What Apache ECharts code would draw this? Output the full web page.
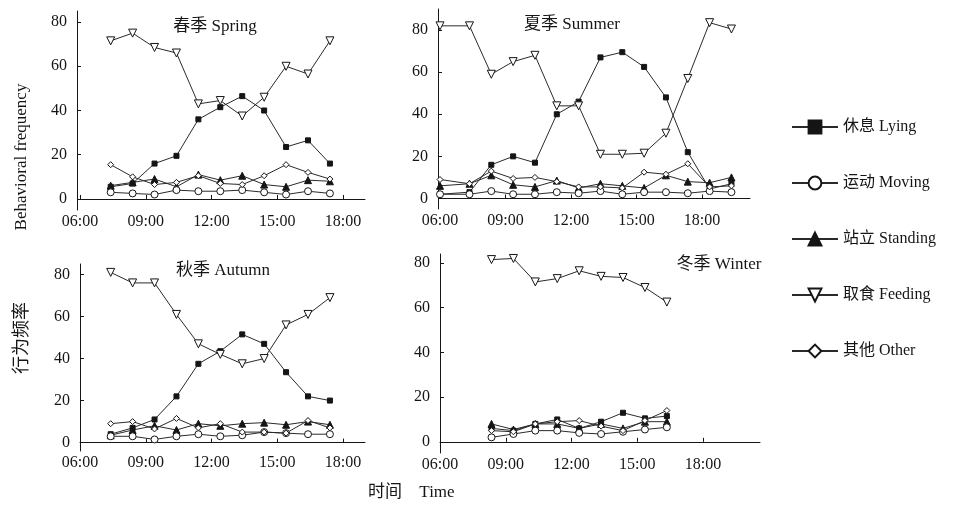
<!DOCTYPE html>
<html lang="zh">
  <head>
    <meta charset="UTF-8" />
    <title>Behavioral frequency by season</title>
    <script src="https://cdn.jsdelivr.net/npm/echarts@6.0.0/dist/echarts.min.js"></script>
  </head>
  <body style="margin:0;background:#fff">
    <div id="main" style="width: 953px; height: 506px"></div>
    <script type="text/javascript">
      // time of each observation, decimal hours
      const springHours = [7.4, 8.4, 9.4, 10.4, 11.4, 12.4, 13.4, 14.4, 15.4, 16.4, 17.4];
      const summerHours = [6.0, 7.35, 8.35, 9.35, 10.35, 11.35, 12.35, 13.35, 14.35, 15.35, 16.35, 17.35, 18.35, 19.35];
      const autumnHours = [7.4, 8.4, 9.4, 10.4, 11.4, 12.4, 13.4, 14.4, 15.4, 16.4, 17.4];
      const winterHours = [8.35, 9.35, 10.35, 11.35, 12.35, 13.35, 14.35, 15.35, 16.35];

      // spring
      const springLying = [5.5, 7, 16, 19.5, 36, 41.5, 46.5, 40, 23.5, 26.5, 16];
      const springMoving = [3, 2.5, 2, 4, 3.5, 3.5, 4, 3, 2, 3.5, 2.5];
      const springStanding = [6, 7.5, 9, 5.5, 11, 8.5, 10.5, 6.5, 5.5, 8.5, 8];
      const springFeeding = [71.5, 75, 68.5, 66, 43, 44.5, 37.5, 46, 60, 56.5, 71.5];
      const springOther = [15.5, 10, 6.5, 7.5, 10.5, 7, 6.5, 10.5, 15.5, 12, 9];

      // summer
      const summerLying = [2, 3, 16, 20, 17, 40, 46, 67, 69.5, 62.5, 48, 22, 4.5, 7];
      const summerMoving = [2, 2, 3.5, 2, 2, 3, 2.5, 3.5, 2, 3, 3, 2.5, 3.5, 3];
      const summerStanding = [6, 7, 11, 6.5, 5.5, 8.5, 5, 7, 6, 5, 11, 8, 7.5, 10];
      const summerFeeding = [82, 82, 59, 65, 68, 44, 44, 21, 21, 21.5, 31, 57, 83.5, 80.5];
      const summerOther = [9, 7, 13, 9.5, 10, 8, 5.5, 5.5, 5, 12.5, 11.5, 16.5, 5.5, 6];

      // autumn
      const autumnLying = [4, 7, 11, 22, 37.5, 43.5, 51.5, 47, 33.5, 22, 20];
      const autumnMoving = [3, 3, 1.5, 3, 4, 3, 3.5, 5, 4.5, 4, 4];
      const autumnStanding = [3.5, 6, 8, 6, 9, 8, 9, 9.5, 8.5, 10, 8.5];
      const autumnFeeding = [81, 76, 76, 61, 47, 42, 37.5, 40, 56, 61, 69];
      const autumnOther = [9, 10, 6.5, 11.5, 7, 9, 5, 5, 4.5, 10.5, 7];

      // winter
      const winterLying = [6, 5, 8, 10, 6, 9, 13, 10.5, 11.5];
      const winterMoving = [2, 3.5, 5, 5, 4, 3.5, 4.5, 5.5, 6.5];
      const winterStanding = [8, 5.5, 8, 8, 6, 8, 6, 9, 9];
      const winterFeeding = [81.5, 82, 71.5, 73, 76.5, 74, 73.5, 69, 62.5];
      const winterOther = [5, 4.5, 8, 9, 9.5, 7, 5, 9.5, 14];

      const seriesNames = ['休息 Lying', '运动 Moving', '站立 Standing', '取食 Feeding', '其他 Other'];
      const hourTicks = [6, 9, 12, 15, 18];
      const valueTicks = [0, 20, 40, 60, 80];
      const panelTitles = ['春季 Spring', '夏季 Summer', '秋季 Autumn', '冬季 Winter'];

      const FONT = '"Liberation Serif", "Noto Sans CJK SC", serif';
      const INK = '#151515';

      const panels = [
        { hours: springHours, sets: [springLying, springMoving, springStanding, springFeeding, springOther] },
        { hours: summerHours, sets: [summerLying, summerMoving, summerStanding, summerFeeding, summerOther] },
        { hours: autumnHours, sets: [autumnLying, autumnMoving, autumnStanding, autumnFeeding, autumnOther] },
        { hours: winterHours, sets: [winterLying, winterMoving, winterStanding, winterFeeding, winterOther] }
      ];

      // layout of the four panels
      const grids = [
        { left: 80, top: 11, width: 285, height: 199 },
        { left: 440, top: 9, width: 310, height: 200 },
        { left: 80, top: 264, width: 285, height: 187 },
        { left: 440, top: 254, width: 320, height: 199 }
      ];
      const xMax = [19, 20.2, 19, 20.6];
      const yRange = [[-5, 85], [-5, 90], [-4, 85], [-5, 84]];
      const yOffset = [3, 2, 0, 0];

      // marker look per behaviour
      const marks = [
        { symbol: 'rect', size: 5, filled: true },
        { symbol: 'circle', size: 7, filled: false },
        { symbol: 'triangle', size: 7, filled: true },
        { symbol: 'path://M0,0 L10,0 L5,9 Z', size: 8, filled: false },
        { symbol: 'diamond', size: 6, filled: false }
      ];

      const fmtHour = (v) => (v < 10 ? '0' : '') + v + ':00';

      const xAxis = grids.map((g, i) => ({
        type: 'value',
        gridIndex: i,
        min: 6,
        max: xMax[i],
        axisLine: { lineStyle: { color: INK, width: 1 } },
        axisTick: { inside: true, length: 4, customValues: hourTicks, lineStyle: { color: INK } },
        axisLabel: {
          customValues: hourTicks,
          formatter: fmtHour,
          margin: 4,
          fontFamily: FONT,
          fontSize: 16,
          color: INK
        },
        splitLine: { show: false }
      }));

      const yAxis = grids.map((g, i) => ({
        type: 'value',
        gridIndex: i,
        min: yRange[i][0],
        max: yRange[i][1],
        offset: yOffset[i],
        axisLine: { show: true, lineStyle: { color: INK, width: 1 } },
        axisTick: { show: true, inside: true, length: 4, customValues: valueTicks, lineStyle: { color: INK } },
        axisLabel: {
          customValues: valueTicks,
          margin: 10,
          fontFamily: FONT,
          fontSize: 16,
          color: INK
        },
        splitLine: { show: false }
      }));

      const series = [];
      panels.forEach((p, i) => {
        p.sets.forEach((vals, k) => {
          const m = marks[k];
          series.push({
            name: seriesNames[k],
            type: 'line',
            xAxisIndex: i,
            yAxisIndex: i,
            data: vals.map((v, j) => [p.hours[j], v]),
            symbol: m.symbol,
            symbolSize: m.size,
            showAllSymbol: true,
            itemStyle: { color: m.filled ? INK : '#fff', borderColor: INK, borderWidth: 1 },
            lineStyle: { color: '#2a2a2a', width: 1 },
            emphasis: { disabled: true },
            z: m.filled ? 2 : 3
          });
        });
      });

      const titleText = (text, x, y) => ({
        type: 'text',
        x: x,
        y: y,
        style: {
          text: text,
          font: '17px ' + FONT,
          fill: INK,
          align: 'center',
          verticalAlign: 'middle'
        }
      });

      const graphic = [
        titleText(panelTitles[0], 215, 27),
        titleText(panelTitles[1], 572, 25),
        titleText(panelTitles[2], 223, 271),
        titleText(panelTitles[3], 719, 265),
        titleText('时间', 385, 493),
        titleText('Time', 437, 493),
        {
          type: 'text',
          x: 22,
          y: 157,
          rotation: Math.PI / 2,
          style: { text: 'Behavioral frequency', font: '17px ' + FONT, fill: INK, align: 'center', verticalAlign: 'middle' }
        },
        {
          type: 'text',
          x: 22,
          y: 338,
          rotation: Math.PI / 2,
          style: { text: '行为频率', font: '18px ' + FONT, fill: INK, align: 'center', verticalAlign: 'middle' }
        }
      ];

      let myChart = echarts.init(document.getElementById('main'));
      myChart.setOption({
        backgroundColor: '#fff',
        animation: false,
        grid: grids,
        xAxis: xAxis,
        yAxis: yAxis,
        legend: {
          data: seriesNames,
          orient: 'vertical',
          left: 786,
          top: 114,
          itemGap: 40,
          itemWidth: 46,
          itemHeight: 16,
          textStyle: { fontFamily: FONT, fontSize: 16, color: INK }
        },
        graphic: graphic,
        series: series
      });
    </script>
  </body>
</html>
